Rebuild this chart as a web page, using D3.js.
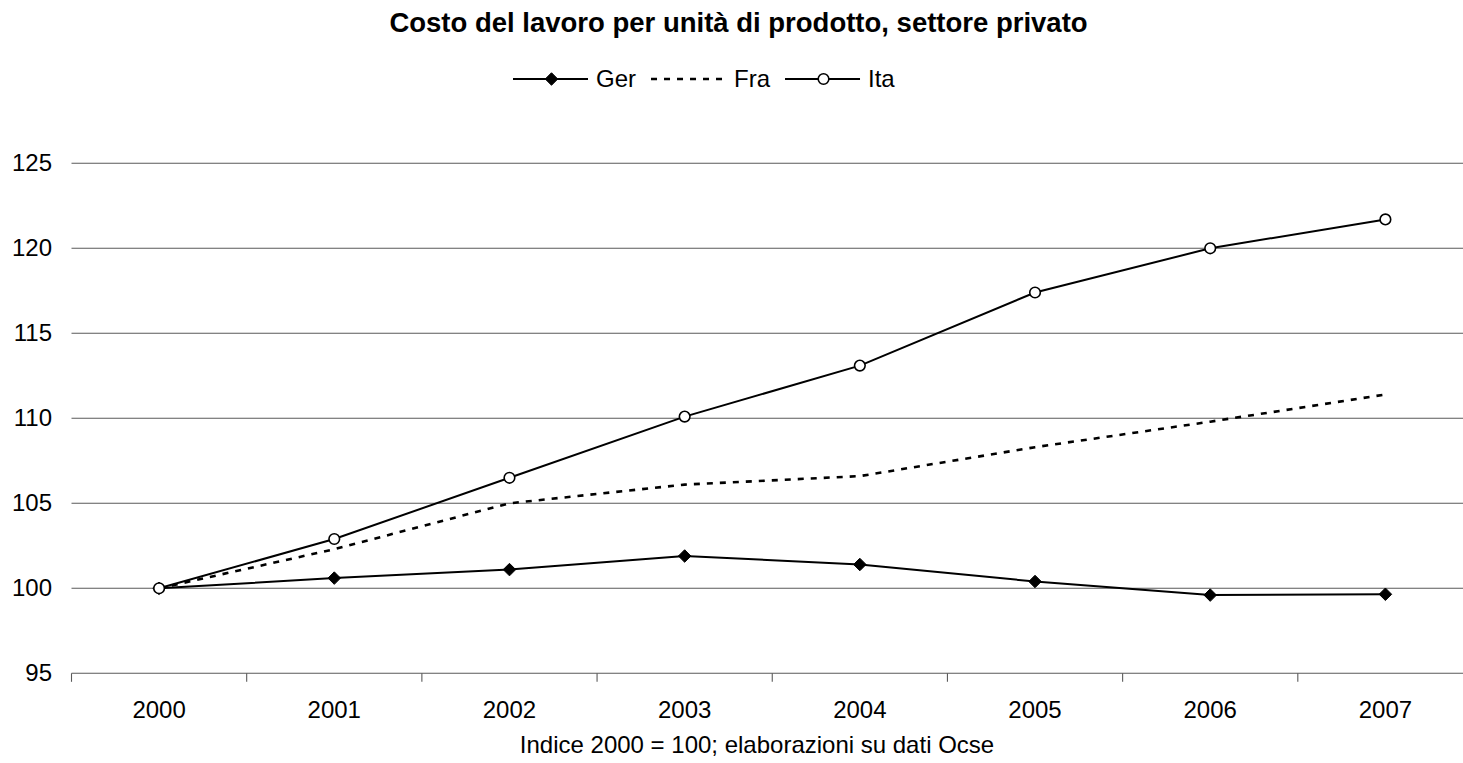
<!DOCTYPE html>
<html>
<head>
<meta charset="utf-8">
<script src="https://cdn.jsdelivr.net/npm/d3@7"></script>
<style>
  html, body { margin: 0; padding: 0; background: #fff; }
  svg { display: block; font-family: "Liberation Sans", Arial, sans-serif; }
</style>
</head>
<body>
<svg id="chart" width="1463" height="763"></svg>
<script>
// Unit labour cost, private sector (index 2000 = 100)
const years = ["2000", "2001", "2002", "2003", "2004", "2005", "2006", "2007"];
const ger = [100, 100.6, 101.1, 101.9, 101.4, 100.4, 99.6, 99.65];
const fra = [100, 102.3, 105.0, 106.1, 106.6, 108.3, 109.8, 111.4];
const ita = [100, 102.9, 106.5, 110.1, 113.1, 117.4, 120.0, 121.7];
const yTicks = [95, 100, 105, 110, 115, 120, 125];
const seriesNames = ["Ger", "Fra", "Ita"];

const titleText = "Costo del lavoro per unità di prodotto, settore privato";
const captionText = "Indice 2000 = 100; elaborazioni su dati Ocse";

const series = [
  { name: seriesNames[0], values: ger, dash: null, marker: "diamond" },
  { name: seriesNames[1], values: fra, dash: "6,7", marker: null },
  { name: seriesNames[2], values: ita, dash: null, marker: "circle" }
];

const svg = d3.select("#chart");

const plot = { left: 71.5, right: 1473, top: 163.3, bottom: 673.3 };

const x = d3.scaleBand().domain(years).range([plot.left, plot.right]).padding(0);
const y = d3.scaleLinear().domain([95, 125]).range([plot.bottom, plot.top]);
const cx = d => x(d) + x.bandwidth() / 2;

// Title
svg.append("text")
  .attr("x", 738.5).attr("y", 32.3)
  .attr("text-anchor", "middle")
  .attr("font-weight", "bold")
  .attr("font-size", 27.5)
  .attr("fill", "#000")
  .text(titleText);

// Horizontal gridlines (the lowest one doubles as the category axis)
svg.append("g")
  .selectAll("line")
  .data(yTicks.filter(t => t > 95))
  .join("line")
  .attr("x1", plot.left).attr("x2", plot.right)
  .attr("y1", d => y(d)).attr("y2", d => y(d))
  .attr("stroke", "#5a5a5a").attr("stroke-width", 1.1);

// Value axis labels (no axis line)
const yAxis = d3.axisLeft(y).tickValues(yTicks).tickSize(0).tickPadding(19.5);
const yG = svg.append("g").attr("transform", `translate(${plot.left},0)`).call(yAxis);
yG.select(".domain").remove();
yG.selectAll("text")
  .attr("font-family", "Liberation Sans, Arial, sans-serif")
  .attr("font-size", 24).attr("fill", "#000");

// Category axis: ticks on the band boundaries, labels centred in bands
const xAxisG = svg.append("g").attr("transform", `translate(0,${plot.bottom})`);
xAxisG.append("line")
  .attr("x1", plot.left).attr("x2", plot.right)
  .attr("y1", 0).attr("y2", 0)
  .attr("stroke", "#5a5a5a").attr("stroke-width", 1.1);
const boundaries = years.map(d => x(d)).concat([plot.right]);
xAxisG.selectAll("line.tick")
  .data(boundaries)
  .join("line")
  .attr("class", "tick")
  .attr("x1", d => d).attr("x2", d => d)
  .attr("y1", 0).attr("y2", 8.5)
  .attr("stroke", "#5a5a5a").attr("stroke-width", 1.1);
xAxisG.selectAll("text")
  .data(years)
  .join("text")
  .attr("x", d => cx(d))
  .attr("y", 45)
  .attr("text-anchor", "middle")
  .attr("font-size", 24)
  .attr("fill", "#000")
  .text(d => d);

// Caption under the axis
svg.append("text")
  .attr("x", 757).attr("y", 752.5)
  .attr("text-anchor", "middle")
  .attr("font-size", 24)
  .attr("fill", "#000")
  .text(captionText);

// Series lines and markers
const line = d3.line().x((d, i) => cx(years[i])).y(d => y(d));
const diamond = d3.symbol().type(d3.symbolDiamond2).size(100);

function drawMarker(g, type, px, py) {
  if (type === "diamond") {
    g.append("path")
      .attr("d", diamond())
      .attr("transform", `translate(${px},${py})`)
      .attr("fill", "#000").attr("stroke", "#000").attr("stroke-width", 1);
  } else if (type === "circle") {
    g.append("circle")
      .attr("cx", px).attr("cy", py).attr("r", 5.3)
      .attr("fill", "#fff").attr("stroke", "#000").attr("stroke-width", 1.6);
  }
}

series.forEach(s => {
  const g = svg.append("g");
  g.append("path")
    .attr("d", line(s.values))
    .attr("fill", "none")
    .attr("stroke", "#000")
    .attr("stroke-width", s.dash ? 2.6 : 2)
    .attr("stroke-dasharray", s.dash);
  if (s.marker) {
    s.values.forEach((v, i) => drawMarker(g, s.marker, cx(years[i]), y(v)));
  }
});

// Legend
const legend = svg.append("g");
let lx = 513;
const ly = 79;
series.forEach(s => {
  const g = legend.append("g");
  g.append("line")
    .attr("x1", lx).attr("x2", lx + 75)
    .attr("y1", ly).attr("y2", ly)
    .attr("stroke", "#000")
    .attr("stroke-width", s.dash ? 2.6 : 2)
    .attr("stroke-dasharray", s.dash);
  if (s.marker) drawMarker(g, s.marker, lx + 38.5, ly);
  const t = g.append("text")
    .attr("x", lx + 83).attr("y", ly + 8.3)
    .attr("font-size", 24).attr("fill", "#000")
    .text(s.name);
  lx = lx + 83 + t.node().getComputedTextLength() + 15;
});
</script>
</body>
</html>
